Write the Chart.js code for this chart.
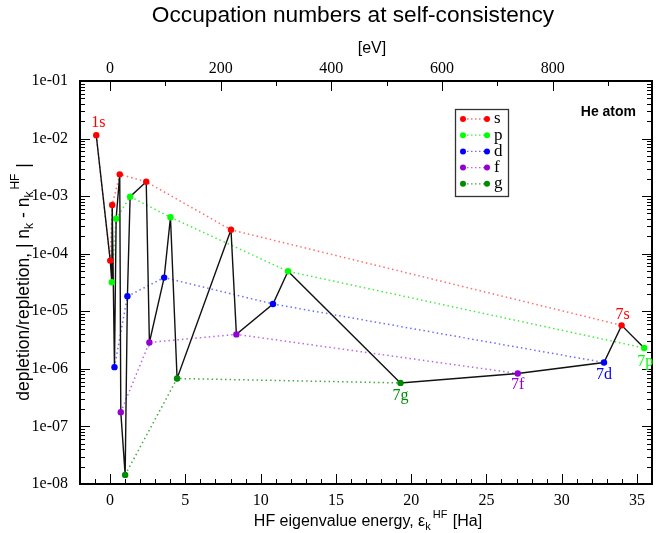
<!DOCTYPE html>
<html><head><meta charset="utf-8">
<script src="https://cdn.jsdelivr.net/npm/chart.js@4/dist/chart.umd.min.js"></script>
<style>html,body{margin:0;padding:0;background:#fff}#wrap{width:656px;height:533px}</style>
</head><body><div id="wrap"><canvas id="c" width="656" height="533"></canvas></div>
<script>
// ---------------- data ----------------
const HA_TO_EV = 27.2114;
const seriesNames = ['s', 'p', 'd', 'f', 'g'];
const sEnergy = [-0.92, 0.01, 0.14, 0.64, 2.40, 8.03, 33.98];
const sValue  = [1.14e-2, 7.6e-5, 7.0e-4, 2.39e-3, 1.78e-3, 2.6e-4, 5.7e-6];
const pEnergy = [0.11, 0.40, 1.33, 4.01, 11.82, 35.48];
const pValue  = [3.2e-5, 4.05e-4, 9.8e-4, 4.3e-4, 4.95e-5, 2.3e-6];
const dEnergy = [0.29, 1.15, 3.59, 10.82, 32.81];
const dValue  = [1.07e-6, 1.82e-5, 3.85e-5, 1.34e-5, 1.29e-6];
const fEnergy = [0.71, 2.61, 8.39, 27.08];
const fValue  = [1.77e-7, 2.88e-6, 3.97e-6, 8.3e-7];
const gEnergy = [1.00, 4.45, 19.29];
const gValue  = [1.44e-8, 6.8e-7, 5.7e-7];
const xTicksHa = [0, 5, 10, 15, 20, 25, 30, 35];
const xTicksEv = [0, 200, 400, 600, 800];
const yTickExponents = [-8, -7, -6, -5, -4, -3, -2, -1];
// labelled points: [series, index, text]
const labelledPoints = [['s', 0, '1s'], ['s', 6, '7s'], ['p', 5, '7p'], ['d', 4, '7d'], ['f', 3, '7f'], ['g', 2, '7g']];

// ---------------- styling ----------------
const COLORS = { s: '#ff0000', p: '#00ff00', d: '#0000ff', f: '#9400d3', g: '#008b00' };
const DOT_COLORS = { s: 'rgba(255,60,60,0.75)', p: 'rgba(40,230,40,0.85)', d: 'rgba(60,60,255,0.75)', f: 'rgba(160,40,220,0.7)', g: 'rgba(0,140,0,0.75)' };
const labelOffsets = { '1s': [2, -12], '7s': [1, -11], '7p': [1, 14], '7d': [0, 12.5], '7f': [0, 11.5], '7g': [0, 13] };
const SERIF = '"Liberation Serif", "DejaVu Serif", serif';
const SANS = '"Liberation Sans", Arial, sans-serif';

const raw = {
  s: [sEnergy, sValue], p: [pEnergy, pValue], d: [dEnergy, dValue], f: [fEnergy, fValue], g: [gEnergy, gValue]
};
const pts = {};
seriesNames.forEach(n => { pts[n] = raw[n][0].map((e, i) => ({ x: e, y: raw[n][1][i] })); });
const allPts = seriesNames.flatMap(n => pts[n]).slice().sort((a, b) => a.x - b.x);

const datasets = [];
seriesNames.forEach(n => {
  datasets.push({ label: n + '-line', data: pts[n], showLine: true, borderColor: DOT_COLORS[n], borderWidth: 1.5,
    borderDash: [1.5, 3], pointRadius: 0, order: 3 });
});
datasets.push({ label: 'all', data: allPts, showLine: true, borderColor: '#111', borderWidth: 1.4, pointRadius: 0, order: 2 });
seriesNames.forEach(n => {
  datasets.push({ label: n, data: pts[n], showLine: false, pointRadius: 3.2, pointBackgroundColor: COLORS[n],
    pointBorderColor: COLORS[n], pointBorderWidth: 0, order: 1 });
});

function drawRuns(ctx, runs, cx, cy) {
  let total = 0;
  const ws = runs.map(r => { ctx.font = r.size + 'px ' + SANS; return ctx.measureText(r.t).width; });
  runs.forEach((r, i) => { total += ws[i] + (r.gapBefore || 0); });
  let x = cx - total / 2;
  runs.forEach((r, i) => {
    x += (r.gapBefore || 0);
    ctx.font = r.size + 'px ' + SANS;
    ctx.fillText(r.t, x, cy + (r.dy || 0));
    x += ws[i];
  });
}

const decor = {
  id: 'decor',
  afterDraw(chart) {
    const { ctx, chartArea: a, scales } = chart;
    const x = scales.x, x2 = scales.x2, y = scales.y;
    ctx.save();
    ctx.strokeStyle = '#000';
    ctx.lineWidth = 1;
    const MAJ = 10, MIN = 5;
    ctx.beginPath();
    for (let v = -2; v <= 36; v++) {
      const px = Math.round(x.getPixelForValue(v)) + 0.5;
      const len = (v % 5 === 0) ? MAJ : MIN;
      ctx.moveTo(px, a.bottom); ctx.lineTo(px, a.bottom - len);
    }
    for (let v = 0; v <= 900; v += 100) {
      const px = Math.round(x2.getPixelForValue(v)) + 0.5;
      const len = (v % 200 === 0) ? MAJ : MIN;
      ctx.moveTo(px, a.top); ctx.lineTo(px, a.top + len);
    }
    for (let e = -8; e <= -1; e++) {
      for (let m = 1; m <= 9; m++) {
        const v = m * Math.pow(10, e);
        if (v > 0.1 * 1.0001) break;
        const py = Math.round(y.getPixelForValue(v)) + 0.5;
        const len = (m === 1) ? MAJ : MIN;
        ctx.moveTo(a.left, py); ctx.lineTo(a.left + len, py);
        ctx.moveTo(a.right, py); ctx.lineTo(a.right - len, py);
      }
    }
    ctx.stroke();
    ctx.lineWidth = 2;
    ctx.strokeRect(a.left, a.top, a.right - a.left, a.bottom - a.top);

    ctx.fillStyle = '#000';
    ctx.textBaseline = 'middle';
    ctx.textAlign = 'center';
    ctx.font = '22.7px ' + SANS;
    ctx.fillText('Occupation numbers at self-consistency', 353, 16);
    ctx.font = '16px ' + SANS;
    ctx.fillText('[eV]', 372, 49);

    ctx.textAlign = 'left';
    ctx.textBaseline = 'alphabetic';
    drawRuns(ctx, [
      { t: 'HF eigenvalue energy, ε', size: 16 },
      { t: 'k', size: 11, dy: 4 },
      { t: 'HF', size: 11, dy: -8, gapBefore: 2 },
      { t: ' [Ha]', size: 16, gapBefore: 1 }
    ], 368, 526);

    ctx.save();
    ctx.translate(29, 282);
    ctx.rotate(-Math.PI / 2);
    drawRuns(ctx, [
      { t: 'depletion/repletion, | n', size: 17.5 },
      { t: 'k', size: 12, dy: 4 },
      { t: ' - n', size: 17.5 },
      { t: 'k', size: 12, dy: 4 },
      { t: 'HF', size: 12, dy: -10, gapBefore: 2 },
      { t: ' |', size: 17.5, gapBefore: 1 }
    ], 0, 0);
    ctx.restore();

    ctx.font = 'bold 14px ' + SANS;
    ctx.textAlign = 'right';
    ctx.textBaseline = 'middle';
    ctx.fillText('He atom', 636, 112);

    ctx.textAlign = 'center';
    ctx.font = '16px ' + SERIF;
    labelledPoints.forEach(([n, i, t]) => {
      const p = pts[n][i];
      const off = labelOffsets[t];
      ctx.fillStyle = COLORS[n];
      ctx.fillText(t, x.getPixelForValue(p.x) + off[0], y.getPixelForValue(p.y) + off[1]);
    });

    const L = { x: 455.5, y: 109.5, w: 53, h: 87 };
    ctx.lineWidth = 1.3;
    ctx.strokeStyle = '#333';
    ctx.strokeRect(L.x, L.y, L.w, L.h);
    seriesNames.forEach((n, i) => {
      const ly = 119 + i * 16.2;
      ctx.save();
      ctx.strokeStyle = DOT_COLORS[n];
      ctx.lineWidth = 1.3;
      ctx.setLineDash([1.5, 2.5]);
      ctx.beginPath(); ctx.moveTo(463, ly); ctx.lineTo(487, ly); ctx.stroke();
      ctx.restore();
      ctx.fillStyle = COLORS[n];
      [463, 487].forEach(cx => { ctx.beginPath(); ctx.arc(cx, ly, 3, 0, Math.PI * 2); ctx.fill(); });
      ctx.fillStyle = '#000';
      ctx.textAlign = 'left';
      ctx.font = '17px ' + SERIF;
      ctx.fillText(n, 494, ly);
    });
    ctx.restore();
  }
};

new Chart(document.getElementById('c'), {
  type: 'scatter',
  data: { datasets },
  options: {
    responsive: false, animation: false, devicePixelRatio: 1,
    layout: { padding: { left: 0, right: 4, top: 0, bottom: 0 } },
    plugins: { legend: { display: false }, tooltip: { enabled: false }, title: { display: false } },
    scales: {
      x: {
        type: 'linear', position: 'bottom', min: -2, max: 36,
        grid: { display: false, drawTicks: false }, border: { display: false },
        afterBuildTicks: s => { s.ticks = xTicksHa.map(v => ({ value: v })); },
        afterFit: s => { s.height = 49; },
        ticks: { autoSkip: false, maxRotation: 0, padding: 7, color: '#000', font: { family: SERIF, size: 16 } }
      },
      x2: {
        type: 'linear', position: 'top', min: -2 * HA_TO_EV, max: 36 * HA_TO_EV,
        grid: { display: false, drawTicks: false }, border: { display: false },
        afterBuildTicks: s => { s.ticks = xTicksEv.map(v => ({ value: v })); },
        afterFit: s => { s.height = 81; },
        ticks: { autoSkip: false, maxRotation: 0, padding: 3, color: '#000', font: { family: SERIF, size: 16 } }
      },
      y: {
        type: 'logarithmic', position: 'left', min: 1e-8, max: 1e-1,
        grid: { display: false, drawTicks: false }, border: { display: false },
        afterBuildTicks: s => { s.ticks = yTickExponents.map(e => ({ value: Math.pow(10, e), major: true })); },
        afterFit: s => { s.width = 80; },
        ticks: { autoSkip: false, padding: 12, color: '#000', font: { family: SERIF, size: 16 },
          callback: v => { const e = Math.round(Math.log10(v)); return '1e-' + String(-e).padStart(2, '0'); } }
      }
    }
  },
  plugins: [decor]
});
</script>
</body></html>
